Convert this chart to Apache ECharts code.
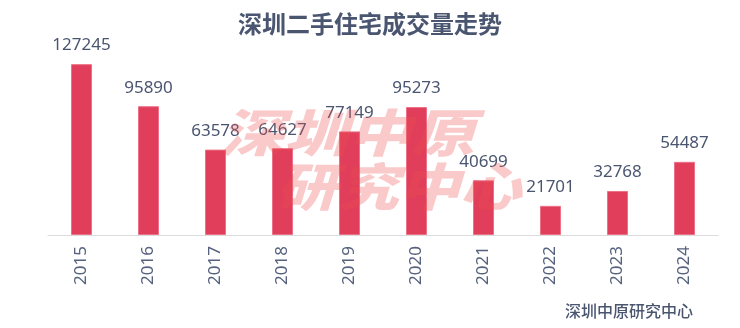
<!DOCTYPE html>
<html><head><meta charset="utf-8">
<script src="https://cdn.jsdelivr.net/npm/echarts@6/dist/echarts.min.js"></script>
<style>html,body{margin:0;padding:0;background:#fff}#c{width:740px;height:328px}</style>
</head><body><div id="c"></div>
<script>
const years = ['2015','2016','2017','2018','2019','2020','2021','2022','2023','2024'];
const volumes = [127245, 95890, 63578, 64627, 77149, 95273, 40699, 21701, 32768, 54487];
const titleText = '深圳二手住宅成交量走势';
const sourceText = '深圳中原研究中心';
const watermarkLines = ['深圳中原', '研究中心'];

const FONT = '"Noto Sans", "Noto Sans CJK SC", sans-serif';
const chart = echarts.init(document.getElementById('c'), null, {renderer: 'canvas'});
chart.setOption({
  animation: false,
  backgroundColor: '#fff',
  title: {
    text: titleText, left: 'center', top: 7,
    textStyle: {fontSize: 24, fontWeight: 'bold', color: '#4a5570', fontFamily: '"Noto Sans CJK SC", sans-serif'}
  },
  grid: {left: 48, right: 22, top: 47, bottom: 93},
  xAxis: {
    type: 'category', data: years,
    axisLine: {lineStyle: {color: '#dcdcdc', width: 1}},
    axisTick: {lineStyle: {color: '#dcdcdc'}, length: 5},
    axisLabel: {rotate: 90, margin: 11, fontSize: 17, color: '#56627e', fontFamily: FONT}
  },
  yAxis: {type: 'value', min: 0, max: 140000, show: false, splitLine: {show: false}},
  series: [{
    type: 'bar', data: volumes, barWidth: 21,
    itemStyle: {color: '#e03e5b', borderColor: '#ec7086', borderWidth: 1},
    label: {show: true, position: 'top', distance: 10, fontSize: 17, color: '#4a5570', fontFamily: FONT},
    z: 2
  }],
  graphic: [
    {type: 'text', z: 10, x: 220, y: 107, scaleX: 1.25,
     style: {text: watermarkLines[0], fontSize: 51, fontWeight: 900, fontStyle: 'italic',
       fontFamily: '"Noto Sans CJK SC", sans-serif', fill: 'rgba(240,80,80,0.3)'}},
    {type: 'text', z: 10, x: 276, y: 161, scaleX: 1.2,
     style: {text: watermarkLines[1], fontSize: 51, fontWeight: 900, fontStyle: 'italic',
       fontFamily: '"Noto Sans CJK SC", sans-serif', fill: 'rgba(240,80,80,0.3)'}},
    {type: 'text', right: 47, top: 303,
     style: {text: sourceText, fontSize: 16, fontWeight: 500, fontFamily: '"Noto Sans CJK SC", sans-serif', fill: '#4a5570'}}
  ]
});
</script></body></html>
